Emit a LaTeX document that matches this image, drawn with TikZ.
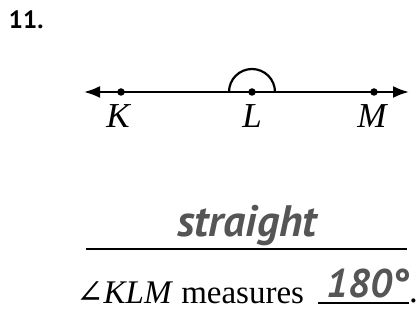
\documentclass[tikz,border=0pt]{standalone}
\usepackage{fontspec}
\setmainfont{Liberation Serif}
\newfontfamily\answerfont{PT Sans}
\newfontfamily\anglefont{DejaVu Serif}
\usepackage{tikz}
\usetikzlibrary{positioning,arrows.meta}
\definecolor{answergray}{HTML}{555555}

\begin{document}
\begin{tikzpicture}[
  x=1pt, y=1pt,
  every node/.style={inner sep=0pt, outer sep=0pt},
  dot/.style={circle, fill, minimum size=7.5pt},
  ray/.style={line width=2.2pt, {Latex[length=16pt,width=12pt]}-{Latex[length=16pt,width=12pt]}},
  ptlabel/.style={font=\fontsize{35}{40}\selectfont\itshape},
  answer/.style={font=\fontsize{44}{50}\selectfont\answerfont\bfseries\itshape, text=answergray},
  blank/.style={line width=1.5pt}
]
\useasboundingbox (0,0) rectangle (418,321);
\node[anchor=north west, font=\fontsize{25}{30}\selectfont\answerfont\bfseries] (num) at (9,310) {11.};

\coordinate (lend) at (84,229);
\coordinate (rend) at (409,229);
\draw[ray] (lend) -- (rend);
\node[dot] (K) at (121,229) {};
\node[dot] (L) at (252,229) {};
\node[dot] (M) at (374,229) {};
\draw[line width=2.2pt] ([xshift=23pt]L.center) arc (0:180:23pt);
\node[ptlabel, below=9pt of K, xshift=-3pt] (Klab) {K};
\node[ptlabel, below=9pt of L] (Llab) {L};
\node[ptlabel, below=9pt of M, xshift=-2pt] (Mlab) {M};

\node[answer, anchor=base] (kind) at (247,84) {straight};
\coordinate (b1l) at (86,72);
\coordinate (b1r) at (407,72);
\draw[blank] (b1l) -- (b1r);

\node[anchor=base west, font=\fontsize{33}{38}\selectfont] (stem) at (76,17) {{\anglefont ∠}\textit{KLM} measures};
\node[answer, font=\fontsize{40}{46}\selectfont\answerfont\bfseries\itshape, anchor=base] (deg) at (368,23) {180°};
\coordinate (b2l) at (318,18);
\coordinate (b2r) at (409,18);
\draw[blank] (b2l) -- (b2r);
\node[anchor=base west, font=\fontsize{35}{40}\selectfont] (stop) at (b2r) {.};
\end{tikzpicture}
\end{document}
